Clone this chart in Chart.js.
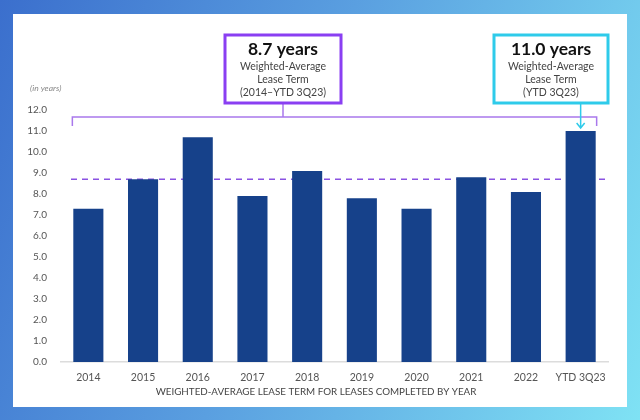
<!DOCTYPE html>
<html>
<head>
<meta charset="utf-8">
<script src="https://cdn.jsdelivr.net/npm/chart.js@4.4.0/dist/chart.umd.min.js"></script>
<style>
  html, body { margin: 0; padding: 0; }
  body {
    width: 640px; height: 420px; overflow: hidden; position: relative;
    background: linear-gradient(110deg, #3b6fcd 0%, #5a9fe0 45%, #7fe2f4 100%);
  }
  #panel {
    position: absolute; left: 13px; top: 14px; width: 614px; height: 393px;
    background: #fff;
  }
  #leaseChart { position: absolute; left: 0; top: 0; }
</style>
</head>
<body>
<div id="panel"></div>
<canvas id="leaseChart" width="640" height="420"></canvas>
<script>
// data
const years = ['2014', '2015', '2016', '2017', '2018', '2019', '2020', '2021', '2022', 'YTD 3Q23'];
const leaseTerm = [7.3, 8.7, 10.7, 7.9, 9.1, 7.8, 7.3, 8.8, 8.1, 11.0];
const avgTerm = 8.7;
const latestTerm = 11.0;
const yTicks = [0, 1, 2, 3, 4, 5, 6, 7, 8, 9, 10, 11, 12];

const FONT = 'Lato, "Open Sans", sans-serif';
const PURPLE = '#8a3ff2';
const CYAN = '#2ecbea';

const annotations = {
  id: 'annotations',
  beforeDatasetsDraw(chart) {
    const { ctx, chartArea, scales: { y } } = chart;
    const yAvg = y.getPixelForValue(avgTerm);
    ctx.save();
    ctx.strokeStyle = '#8a52e2';
    ctx.lineWidth = 1.5;
    ctx.setLineDash([6, 5]);
    ctx.beginPath();
    ctx.moveTo(chartArea.left + 10, yAvg);
    ctx.lineTo(chartArea.right, yAvg);
    ctx.stroke();
    ctx.restore();
  },
  afterDraw(chart) {
    const { ctx, scales: { x } } = chart;
    ctx.save();

    // unit label
    ctx.fillStyle = '#888';
    ctx.font = 'italic 8.5px ' + FONT;
    ctx.textAlign = 'left';
    ctx.textBaseline = 'middle';
    ctx.fillText('(in years)', 30, 88);

    // bracket across all bars
    const bl = x.getPixelForValue(0) - 16;
    const br = x.getPixelForValue(years.length - 1) + 16;
    const by = 117;
    ctx.strokeStyle = '#a978ec';
    ctx.lineWidth = 1.5;
    ctx.beginPath();
    ctx.moveTo(bl, by + 9);
    ctx.lineTo(bl, by);
    ctx.lineTo(br, by);
    ctx.lineTo(br, by + 9);
    ctx.moveTo(283, 103);
    ctx.lineTo(283, by);
    ctx.stroke();

    // callout boxes
    const box = (x0, x1, color, big, lines) => {
      ctx.fillStyle = '#fff';
      ctx.fillRect(x0, 35, x1 - x0, 68);
      ctx.strokeStyle = color;
      ctx.lineWidth = 3;
      ctx.strokeRect(x0, 35, x1 - x0, 68);
      const cx = (x0 + x1) / 2;
      ctx.textAlign = 'center';
      ctx.textBaseline = 'middle';
      ctx.fillStyle = '#111';
      ctx.font = 'bold 17.5px ' + FONT;
      ctx.fillText(big, cx, 49);
      ctx.fillStyle = '#444';
      ctx.font = '10.5px ' + FONT;
      lines.forEach((t, i) => ctx.fillText(t, cx, 67 + i * 13));
    };
    box(225, 341, PURPLE, avgTerm.toFixed(1) + ' years',
      ['Weighted-Average', 'Lease Term', '(2014\u2013YTD 3Q23)']);
    box(494, 608, CYAN, latestTerm.toFixed(1) + ' years',
      ['Weighted-Average', 'Lease Term', '(YTD 3Q23)']);

    // arrow to latest bar
    const ax = x.getPixelForValue(years.length - 1);
    ctx.strokeStyle = CYAN;
    ctx.lineWidth = 1.5;
    ctx.beginPath();
    ctx.moveTo(ax, 103);
    ctx.lineTo(ax, 128);
    ctx.moveTo(ax - 4, 123);
    ctx.lineTo(ax, 128);
    ctx.lineTo(ax + 4, 123);
    ctx.stroke();

    // axis title
    ctx.fillStyle = '#444';
    ctx.font = '9.8px ' + FONT;
    ctx.textAlign = 'center';
    ctx.fillText('WEIGHTED-AVERAGE LEASE TERM FOR LEASES COMPLETED BY YEAR', 316, 392);
    ctx.restore();
  }
};

new Chart(document.getElementById('leaseChart'), {
  type: 'bar',
  data: {
    labels: years,
    datasets: [{
      data: leaseTerm,
      backgroundColor: '#16418a',
      barPercentage: 0.55,
      categoryPercentage: 1
    }]
  },
  options: {
    responsive: false,
    animation: false,
    layout: { padding: { left: 25, right: 32, top: 110, bottom: 0 } },
    plugins: { legend: { display: false }, tooltip: { enabled: false } },
    scales: {
      x: {
        grid: { display: false },
        border: { display: true, color: '#dcdcdc', width: 1.5 },
        ticks: { color: '#555', font: { family: FONT, size: 10.5 }, padding: 1, maxRotation: 0 },
        afterFit: s => { s.height = 58; }
      },
      y: {
        min: 0,
        max: 12,
        grid: { display: false },
        border: { display: false },
        afterBuildTicks: s => { s.ticks = yTicks.map(v => ({ value: v })); },
        ticks: {
          color: '#555',
          font: { family: FONT, size: 10 },
          padding: 6,
          callback: v => v.toFixed(1)
        },
        afterFit: s => { s.width = 36; }
      }
    }
  },
  plugins: [annotations]
});
</script>
</body>
</html>
